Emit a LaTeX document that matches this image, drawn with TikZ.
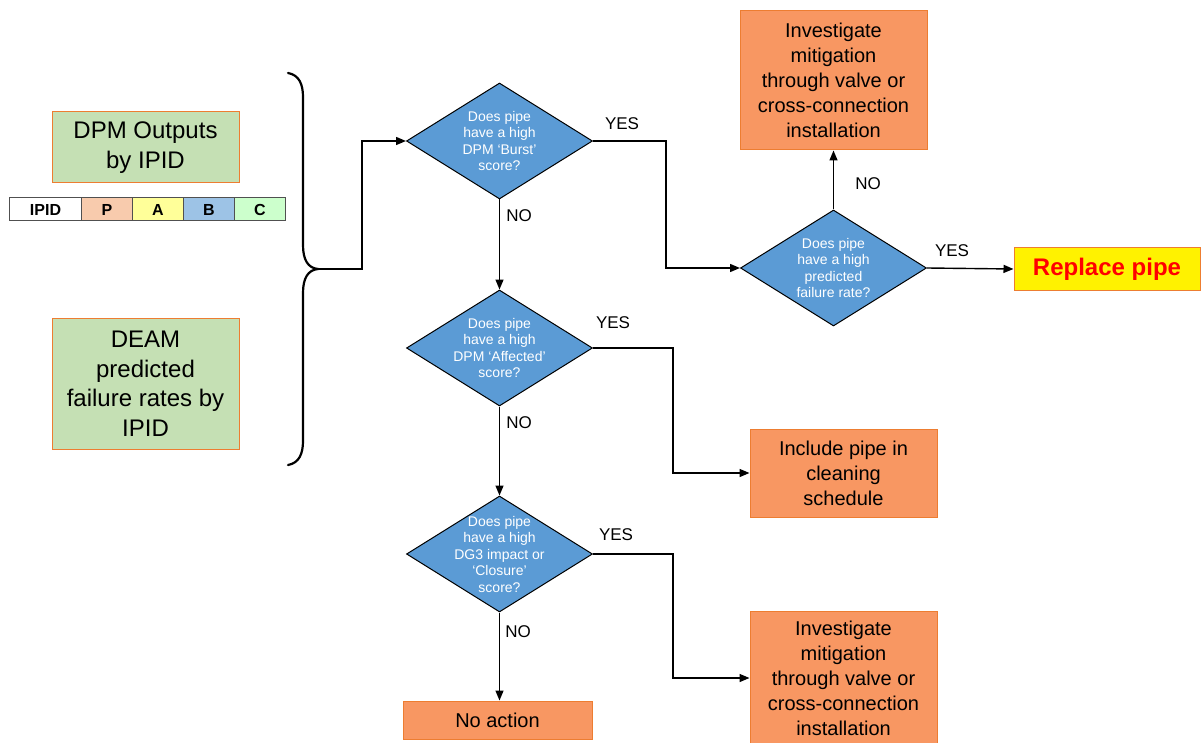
\documentclass[tikz,border=0pt]{standalone}
\usepackage{fontspec}
\setmainfont{Liberation Sans}
\usetikzlibrary{shapes.geometric,arrows.meta}
\definecolor{boxorange}{RGB}{248,151,98}
\definecolor{edgeorange}{RGB}{237,125,49}
\definecolor{greenfill}{RGB}{197,224,180}
\definecolor{diamblue}{RGB}{91,155,213}
\definecolor{cellP}{RGB}{248,203,173}
\definecolor{cellA}{RGB}{255,255,153}
\definecolor{cellB}{RGB}{157,195,230}
\definecolor{cellC}{RGB}{204,255,204}
\definecolor{cellgray}{RGB}{80,80,80}
\begin{document}
\begin{tikzpicture}[x=1pt,y=-1pt,
  inbox/.style={draw=edgeorange, line width=1pt, fill=greenfill, minimum width=187pt, align=center, inner sep=0pt, font=\fontsize{24}{29.5}\selectfont},
  actbox/.style={draw=edgeorange, line width=1pt, fill=boxorange, minimum width=187pt, align=center, inner sep=0pt, font=\fontsize{20}{25}\selectfont},
  dia/.style={diamond, draw=black, line width=1pt, fill=diamblue, minimum width=186pt, minimum height=116pt, inner sep=0pt},
  diatext/.style={text=white, align=center, inner sep=0pt, font=\fontsize{14}{16.5}\selectfont},
  cell/.style={draw=cellgray, line width=1pt, minimum height=23pt, inner sep=0pt, anchor=west, font=\fontsize{16}{16}\selectfont\bfseries},
  conn/.style={draw=black, line width=1.4pt, -{Triangle[length=10pt,width=8pt]}},
  yn/.style={inner sep=0pt, font=\fontsize{17}{17}\selectfont}]
\useasboundingbox (0,0) rectangle (1201,743);
\fill[white] (0,0) rectangle (1201,743);

% input boxes
\node[inbox, minimum height=71pt] (dpm) at (145.5,147.5) {DPM Outputs\\by IPID};
\node[inbox, minimum height=131pt] (deam) at (145.5,383.5) {DEAM\\predicted\\failure rates by\\IPID};

% IPID table
\node[cell, fill=white, minimum width=72pt] (cI) at (9,209.5) {IPID};
\node[cell, fill=cellP, minimum width=51pt] (cP) at (81,209.5) {P};
\node[cell, fill=cellA, minimum width=51pt] (cA) at (132,209.5) {A};
\node[cell, fill=cellB, minimum width=51pt] (cB) at (183,209.5) {B};
\node[cell, fill=cellC, minimum width=51pt] (cC) at (234,209.5) {C};

% brace
\draw[line width=2.2pt, line cap=round] (288,73) .. controls (299,75) and (303,84) .. (303,97)
  -- (303,245) .. controls (303,260) and (308,268) .. (318,269)
  .. controls (308,270) and (303,278) .. (303,293)
  -- (303,441) .. controls (303,454) and (299,463) .. (288,465);
\coordinate (bt) at (318,269);

% decisions
\node[dia] (d1) at (499.5,141) {};
\node[diatext] at (d1) {Does pipe\\have a high\\DPM ‘Burst’\\score?};
\node[dia] (d2) at (499.5,348) {};
\node[diatext] at (d2) {Does pipe\\have a high\\DPM ‘Affected’\\score?};
\node[dia] (d3) at (499.5,554) {};
\node[diatext] at (d3) {Does pipe\\have a high\\DG3 impact or\\‘Closure’\\score?};
\node[dia] (d4) at (833.5,268) {};
\node[diatext] at (d4) {Does pipe\\have a high\\predicted\\failure rate?};

% actions
\node[actbox, minimum height=139pt] (inv1) at (833.5,80.5) {Investigate\\mitigation\\through valve or\\cross-connection\\installation};
\node[actbox, minimum height=88pt] (inc) at (843.5,473) {Include pipe in\\cleaning\\schedule};
\node[actbox, minimum height=134pt] (inv2) at (843.5,678) {Investigate\\mitigation\\through valve or\\cross-connection\\installation};
\node[actbox, minimum width=189pt, minimum height=38pt] (noact) at (497.5,720) {No action};
\node[draw=edgeorange, line width=1pt, fill=yellow, minimum width=186pt, minimum height=42pt, inner sep=0pt, text=red, font=\fontsize{24}{24}\selectfont\bfseries] (rep) at (1107,269) {Replace pipe};

% connectors
\draw[conn] (bt) -- ++(44,0) |- (d1.west);
\draw[conn] (d1.south) -- (d2.north);
\draw[conn] (d2.south) -- (d3.north);
\draw[conn] (d3.south) -- (d3.south |- noact.north);
\draw[conn] (d1.east) -- ++(73,0) |- (d4.west);
\draw[conn] (d2.east) -- ++(80,0) |- (inc.west);
\draw[conn] (d3.east) -- ++(80,0) |- (inv2.west);
\draw[conn] (d4.north) -- (inv1.south);
\draw[conn] (d4.east) -- (rep.west);

% labels
\node[yn] (l1) at (622,124) {YES};
\node[yn] (l2) at (519,216) {NO};
\node[yn] (l3) at (613,323) {YES};
\node[yn] (l4) at (519,423) {NO};
\node[yn] (l5) at (616,535) {YES};
\node[yn] (l6) at (518,632) {NO};
\node[yn] (l7) at (868,184) {NO};
\node[yn] (l8) at (952,251) {YES};
\end{tikzpicture}
\end{document}
